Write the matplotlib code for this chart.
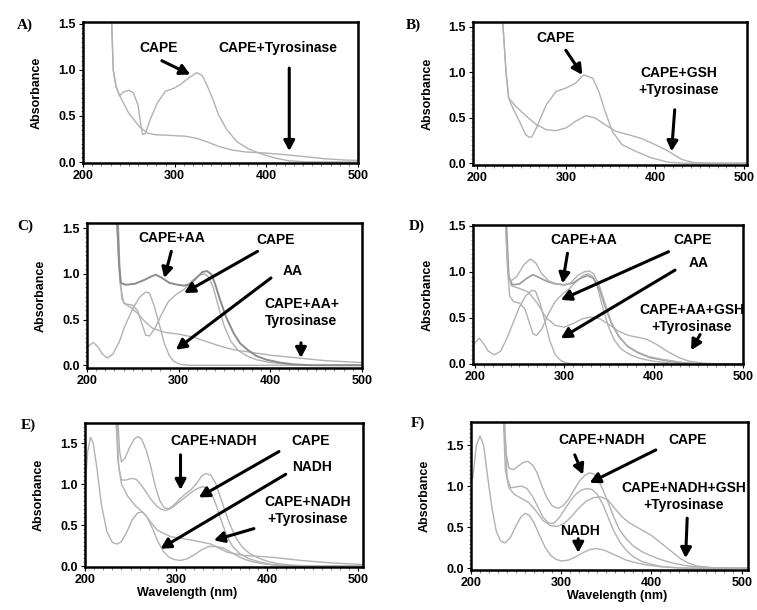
import matplotlib
matplotlib.use('Agg')
import matplotlib.pyplot as plt
from matplotlib.ticker import MultipleLocator, FormatStrFormatter

# ---- panel A ----
wl_a_cape = [231, 233, 236, 240, 244, 250, 255, 260, 263, 265, 268, 274, 281, 290, 299, 306, 315, 324, 330, 335, 341, 348, 357, 368, 381, 395, 410, 424, 442, 500]
ab_a_cape = [1.6, 1.0, 0.82, 0.72, 0.76, 0.78, 0.75, 0.62, 0.41, 0.30, 0.31, 0.48, 0.64, 0.77, 0.80, 0.84, 0.91, 0.97, 0.94, 0.84, 0.70, 0.51, 0.35, 0.22, 0.14, 0.087, 0.043, 0.015, 0.003, 0.0]
wl_a_tyr = [231, 233, 236, 240, 250, 261, 270, 279, 294, 312, 323, 334, 348, 363, 377, 399, 421, 443, 464, 486, 500]
ab_a_tyr = [1.6, 1.0, 0.82, 0.72, 0.53, 0.39, 0.315, 0.297, 0.29, 0.28, 0.26, 0.225, 0.17, 0.13, 0.11, 0.098, 0.08, 0.058, 0.036, 0.022, 0.018]

# ---- panel B ----
wl_b_cape = [229, 233, 236, 239, 248, 255, 259, 262, 267, 278, 289, 300, 311, 320, 330, 337, 344, 352, 363, 378, 396, 415, 433, 503]
ab_b_cape = [1.6, 1.0, 0.715, 0.64, 0.46, 0.313, 0.284, 0.29, 0.386, 0.64, 0.787, 0.824, 0.879, 0.97, 0.934, 0.787, 0.569, 0.35, 0.204, 0.131, 0.058, 0.01, 0.0, 0.0]
wl_b_gsh = [229, 233, 236, 244, 256, 267, 278, 289, 300, 311, 322, 333, 344, 356, 370, 385, 400, 415, 430, 444, 459, 503]
ab_b_gsh = [1.6, 1.0, 0.715, 0.624, 0.514, 0.423, 0.368, 0.357, 0.386, 0.46, 0.521, 0.496, 0.423, 0.35, 0.313, 0.27, 0.204, 0.131, 0.04, 0.005, 0.0, 0.0]

# ---- panel C ----
wl_c_aa = [200, 203, 207, 212, 217, 222, 228, 235, 241, 250, 257, 264, 268, 273, 278, 284, 290, 295, 302, 310, 500]
ab_c_aa = [0.19, 0.22, 0.25, 0.2, 0.12, 0.08, 0.12, 0.25, 0.42, 0.62, 0.74, 0.8, 0.79, 0.66, 0.48, 0.25, 0.1, 0.04, 0.01, 0.0, 0.0]
wl_c_cape = [234, 236, 238, 242, 249, 255, 260, 264, 268, 274, 281, 289, 298, 306, 314, 322, 328, 333, 338, 344, 350, 357, 365, 375, 385, 400, 420, 440, 500]
ab_c_cape = [1.6, 1.0, 0.72, 0.67, 0.66, 0.6, 0.45, 0.33, 0.32, 0.4, 0.55, 0.7, 0.78, 0.83, 0.92, 0.98, 1.0, 0.96, 0.84, 0.62, 0.42, 0.26, 0.16, 0.1, 0.06, 0.03, 0.01, 0.0, 0.0]
wl_c_mix = [233, 235, 237, 242, 252, 262, 270, 275, 281, 290, 299, 306, 313, 320, 326, 331, 336, 340, 345, 352, 360, 367, 375, 385, 396, 410, 425, 445, 500]
ab_c_mix = [1.6, 1.1, 0.9, 0.88, 0.89, 0.93, 0.97, 0.99, 0.96, 0.9, 0.88, 0.87, 0.89, 0.96, 1.02, 1.03, 0.99, 0.88, 0.72, 0.52, 0.35, 0.24, 0.17, 0.1, 0.06, 0.03, 0.01, 0.0, 0.0]
wl_c_tyr = [232, 236, 240, 248, 256, 263, 272, 285, 300, 315, 330, 345, 360, 380, 400, 420, 440, 460, 480, 500]
ab_c_tyr = [1.6, 0.9, 0.68, 0.63, 0.56, 0.48, 0.4, 0.36, 0.34, 0.31, 0.26, 0.21, 0.17, 0.14, 0.11, 0.09, 0.07, 0.05, 0.04, 0.03]

# ---- panel D ----
wl_d_aa = [198, 201, 205, 210, 215, 222, 229, 236, 243, 250, 257, 264, 268, 273, 278, 284, 290, 296, 303, 312, 499]
ab_d_aa = [0.2, 0.24, 0.28, 0.22, 0.14, 0.1, 0.14, 0.28, 0.45, 0.62, 0.74, 0.8, 0.79, 0.66, 0.48, 0.25, 0.1, 0.04, 0.01, 0.0, 0.0]
wl_d_cape = [235, 237, 239, 243, 250, 256, 261, 265, 269, 275, 282, 290, 298, 306, 314, 321, 327, 332, 337, 343, 349, 356, 364, 374, 385, 400, 420, 440, 499]
ab_d_cape = [1.6, 1.0, 0.74, 0.68, 0.66, 0.6, 0.45, 0.33, 0.31, 0.38, 0.54, 0.68, 0.76, 0.82, 0.9, 0.96, 0.98, 0.95, 0.84, 0.62, 0.42, 0.26, 0.16, 0.1, 0.06, 0.03, 0.01, 0.0, 0.0]
wl_d_mix = [234, 237, 240, 247, 255, 262, 268, 275, 283, 292, 300, 307, 315, 322, 328, 333, 339, 345, 352, 360, 370, 382, 395, 410, 430, 450, 499]
ab_d_mix = [1.6, 1.0, 0.9, 0.95, 1.08, 1.14, 1.1, 0.98, 0.9, 0.87, 0.86, 0.88, 0.96, 1.0, 1.01, 0.98, 0.86, 0.68, 0.47, 0.32, 0.2, 0.13, 0.08, 0.05, 0.02, 0.0, 0.0]
wl_d_mix2 = [235, 238, 242, 250, 258, 265, 272, 280, 290, 300, 310, 318, 326, 333, 340, 346, 353, 361, 371, 383, 396, 412, 430, 450, 499]
ab_d_mix2 = [1.6, 0.95, 0.86, 0.87, 0.93, 0.97, 0.94, 0.9, 0.87, 0.86, 0.88, 0.93, 0.96, 0.93, 0.8, 0.62, 0.44, 0.3, 0.19, 0.12, 0.07, 0.04, 0.015, 0.0, 0.0]
wl_d_tyr = [234, 237, 241, 250, 260, 270, 280, 290, 300, 310, 320, 330, 340, 350, 360, 372, 382, 392, 402, 415, 428, 440, 455, 470, 499]
ab_d_tyr = [1.6, 1.0, 0.85, 0.82, 0.78, 0.66, 0.5, 0.42, 0.4, 0.44, 0.49, 0.51, 0.49, 0.43, 0.36, 0.31, 0.29, 0.27, 0.22, 0.14, 0.07, 0.03, 0.01, 0.0, 0.0]

# ---- panel E ----
wl_e_nadh = [200, 203, 206, 209, 213, 218, 224, 230, 235, 240, 246, 252, 258, 263, 268, 274, 280, 286, 292, 298, 305, 312, 320, 328, 336, 344, 352, 360, 368, 376, 385, 395, 410, 430, 505]
ab_e_nadh = [0.95, 1.4, 1.57, 1.5, 1.2, 0.75, 0.42, 0.29, 0.27, 0.3, 0.42, 0.57, 0.65, 0.66, 0.6, 0.46, 0.3, 0.18, 0.11, 0.08, 0.07, 0.09, 0.14, 0.2, 0.24, 0.24, 0.22, 0.17, 0.12, 0.08, 0.05, 0.03, 0.01, 0.0, 0.0]
wl_e_mix = [236, 238, 240, 244, 249, 254, 258, 262, 267, 272, 277, 282, 287, 292, 298, 304, 310, 316, 322, 328, 333, 338, 343, 348, 354, 360, 366, 372, 380, 390, 400, 412, 425, 440, 505]
ab_e_mix = [1.8, 1.4, 1.27, 1.32, 1.45, 1.55, 1.58, 1.55, 1.42, 1.22, 0.98, 0.8, 0.71, 0.7, 0.75, 0.82, 0.88, 0.93, 1.0, 1.1, 1.13, 1.11, 1.02, 0.86, 0.66, 0.48, 0.34, 0.24, 0.16, 0.1, 0.06, 0.03, 0.015, 0.005, 0.0]
wl_e_cape = [235, 237, 240, 245, 251, 256, 261, 266, 272, 278, 284, 289, 295, 302, 310, 318, 324, 329, 334, 339, 344, 350, 356, 362, 370, 380, 392, 405, 420, 440, 505]
ab_e_cape = [1.8, 1.2, 1.05, 1.05, 1.07, 1.06, 1.0, 0.92, 0.82, 0.74, 0.69, 0.68, 0.71, 0.77, 0.84, 0.91, 0.95, 0.97, 0.95, 0.88, 0.74, 0.54, 0.36, 0.24, 0.15, 0.09, 0.05, 0.02, 0.01, 0.0, 0.0]
wl_e_tyr = [234, 236, 240, 247, 255, 265, 279, 294, 316, 338, 356, 375, 404, 437, 470, 505]
ab_e_tyr = [1.8, 1.3, 1.0, 0.85, 0.74, 0.64, 0.44, 0.36, 0.32, 0.27, 0.17, 0.13, 0.11, 0.07, 0.04, 0.02]

# ---- panel F ----
wl_f_nadh = [202, 206, 210, 214, 218, 223, 228, 233, 238, 244, 250, 255, 260, 265, 270, 276, 282, 288, 294, 300, 308, 316, 324, 332, 340, 348, 356, 364, 372, 382, 395, 410, 430, 507]
ab_f_nadh = [1.1, 1.5, 1.61, 1.5, 1.15, 0.75, 0.45, 0.33, 0.31, 0.38, 0.52, 0.62, 0.67, 0.64, 0.55, 0.4, 0.26, 0.16, 0.11, 0.09, 0.1, 0.14, 0.19, 0.23, 0.24, 0.22, 0.18, 0.14, 0.1, 0.07, 0.04, 0.02, 0.005, 0.0]
wl_f_mix = [237, 239, 242, 247, 253, 258, 263, 268, 273, 278, 284, 290, 296, 302, 308, 314, 320, 326, 331, 336, 341, 346, 352, 358, 364, 372, 380, 390, 400, 412, 425, 440, 460, 507]
ab_f_mix = [1.8, 1.4, 1.22, 1.2, 1.25, 1.29, 1.3, 1.26, 1.17, 1.02, 0.86, 0.76, 0.73, 0.76, 0.84, 0.95, 1.06, 1.13, 1.16, 1.15, 1.08, 0.96, 0.8, 0.63, 0.48, 0.36, 0.27, 0.2, 0.15, 0.1, 0.06, 0.03, 0.01, 0.0]
wl_f_cape = [237, 240, 244, 250, 256, 262, 268, 274, 280, 286, 292, 298, 304, 310, 316, 322, 328, 334, 340, 346, 352, 358, 365, 372, 380, 390, 400, 412, 425, 440, 507]
ab_f_cape = [1.8, 1.1, 0.98, 0.99, 1.0, 0.97, 0.88, 0.75, 0.62, 0.55, 0.55, 0.62, 0.72, 0.82, 0.9, 0.95, 0.97, 0.96, 0.9, 0.78, 0.62, 0.46, 0.32, 0.22, 0.14, 0.08, 0.05, 0.02, 0.01, 0.0, 0.0]
wl_f_tyr = [236, 238, 242, 248, 256, 264, 272, 280, 288, 296, 304, 312, 320, 328, 336, 344, 352, 360, 368, 376, 384, 392, 400, 408, 416, 424, 432, 440, 450, 465, 507]
ab_f_tyr = [1.8, 1.2, 0.98, 0.9, 0.85, 0.8, 0.7, 0.58, 0.52, 0.51, 0.55, 0.64, 0.74, 0.82, 0.86, 0.87, 0.83, 0.72, 0.62, 0.55, 0.5, 0.45, 0.4, 0.33, 0.26, 0.19, 0.12, 0.07, 0.03, 0.01, 0.0]

W, H = 757, 610
fig = plt.figure(figsize=(W / 100, H / 100), dpi=100)
plt.rcParams['font.family'] = ['Liberation Sans', 'DejaVu Sans']

GREY = '#b2b2b2'


def make_ax(l, t, r, b, xlim, ylim):
    ax = fig.add_axes([l / W, 1 - b / H, (r - l) / W, (b - t) / H])
    ax.set_xlim(*xlim)
    ax.set_ylim(*ylim)
    for s in ax.spines.values():
        s.set_linewidth(1.8)
    ax.set_xticks([200, 300, 400, 500])
    ax.set_yticks([0.0, 0.5, 1.0, 1.5])
    ax.yaxis.set_major_formatter(FormatStrFormatter('%.1f'))
    ax.xaxis.set_minor_locator(MultipleLocator(10))
    ax.yaxis.set_minor_locator(MultipleLocator(0.05))
    ax.tick_params(which='major', length=3, width=0.8, labelsize=9, pad=2)
    ax.tick_params(which='minor', length=1.8, width=0.5, color='#555555')
    for lab in ax.get_xticklabels() + ax.get_yticklabels():
        lab.set_fontweight('bold')
    ax.set_ylabel('Absorbance', fontsize=9, fontweight='bold')
    ax.yaxis.set_label_coords(-0.145, 0.5)
    return ax


def arrow(ax, tail, head):
    ax.annotate('', xy=head, xytext=tail,
                arrowprops=dict(arrowstyle='-|>,head_length=0.6,head_width=0.32',
                                lw=2.2, color='black', shrinkA=0, shrinkB=0))


def label(ax, x, y, s):
    ax.text(x, y, s, ha='center', va='center', fontsize=10, fontweight='bold',
            linespacing=1.3)


# A
ax = make_ax(83, 22, 358, 163, (200, 500), (-0.01, 1.52))
ax.plot(wl_a_cape, ab_a_cape, color=GREY, lw=1)
ax.plot(wl_a_tyr, ab_a_tyr, color=GREY, lw=1)
label(ax, 282, 1.24, 'CAPE')
arrow(ax, (286, 1.10), (317, 0.95))
label(ax, 413, 1.24, 'CAPE+Tyrosinase')
arrow(ax, (425, 1.02), (425, 0.12))

# B
ax = make_ax(473, 22, 747, 165, (196, 503), (-0.02, 1.55))
ax.plot(wl_b_cape, ab_b_cape, color=GREY, lw=1)
ax.plot(wl_b_gsh, ab_b_gsh, color=GREY, lw=1)
label(ax, 289, 1.37, 'CAPE')
arrow(ax, (300, 1.24), (318.5, 0.97))
label(ax, 426, 0.90, 'CAPE+GSH\n+Tyrosinase')
arrow(ax, (422, 0.586), (418.5, 0.13))

# C
ax = make_ax(87, 223, 362, 368, (200, 500), (-0.03, 1.555))
ax.plot(wl_c_aa, ab_c_aa, color=GREY, lw=1)
ax.plot(wl_c_cape, ab_c_cape, color=GREY, lw=1)
ax.plot(wl_c_tyr, ab_c_tyr, color=GREY, lw=1)
ax.plot(wl_c_mix, ab_c_mix, color='#8c8c8c', lw=1.4)
label(ax, 292, 1.39, 'CAPE+AA')
arrow(ax, (292, 1.245), (284.3, 0.954))
label(ax, 406, 1.37, 'CAPE')
arrow(ax, (386, 1.245), (306, 0.79))
label(ax, 424, 1.03, 'AA')
arrow(ax, (400.7, 0.954), (297, 0.17))
label(ax, 434, 0.58, 'CAPE+AA+\nTyrosinase')
arrow(ax, (433.4, 0.245), (433.4, 0.08))

# D
ax = make_ax(473, 225, 743, 364, (198, 499), (0, 1.51))
ax.plot(wl_d_aa, ab_d_aa, color=GREY, lw=1)
ax.plot(wl_d_cape, ab_d_cape, color=GREY, lw=1)
ax.plot(wl_d_tyr, ab_d_tyr, color=GREY, lw=1)
ax.plot(wl_d_mix2, ab_d_mix2, color='#9a9a9a', lw=1.2)
ax.plot(wl_d_mix, ab_d_mix, color=GREY, lw=1)
label(ax, 322, 1.348, 'CAPE+AA')
arrow(ax, (303.7, 1.203), (298.1, 0.877))
label(ax, 444, 1.348, 'CAPE')
arrow(ax, (416.7, 1.22), (296.3, 0.696))
label(ax, 450, 1.10, 'AA')
arrow(ax, (424, 1.02), (296.3, 0.279))
label(ax, 443, 0.496, 'CAPE+AA+GSH\n+Tyrosinase')
arrow(ax, (452, 0.32), (442, 0.15))

# E
ax = make_ax(85, 423, 363, 567, (200, 505), (-0.01, 1.745))
ax.plot(wl_e_nadh, ab_e_nadh, color=GREY, lw=1)
ax.plot(wl_e_tyr, ab_e_tyr, color=GREY, lw=1)
ax.plot(wl_e_cape, ab_e_cape, color=GREY, lw=1)
ax.plot(wl_e_mix, ab_e_mix, color=GREY, lw=1)
label(ax, 341.4, 1.52, 'CAPE+NADH')
arrow(ax, (304.8, 1.357), (304.8, 0.93))
label(ax, 447.6, 1.52, 'CAPE')
arrow(ax, (412.8, 1.397), (324.9, 0.838))
label(ax, 449.5, 1.214, 'NADH')
arrow(ax, (420.2, 1.12), (282.8, 0.213))
label(ax, 444.3, 0.675, 'CAPE+NADH\n+Tyrosinase')
arrow(ax, (385.3, 0.458), (341.4, 0.315))

# F
ax = make_ax(471, 422, 748, 570, (202, 507), (-0.02, 1.78))
ax.plot(wl_f_nadh, ab_f_nadh, color=GREY, lw=1)
ax.plot(wl_f_tyr, ab_f_tyr, color=GREY, lw=1)
ax.plot(wl_f_cape, ab_f_cape, color=GREY, lw=1)
ax.plot(wl_f_mix, ab_f_mix, color=GREY, lw=1)
label(ax, 344.4, 1.565, 'CAPE+NADH')
arrow(ax, (315, 1.38), (324.2, 1.14))
label(ax, 439.6, 1.565, 'CAPE')
arrow(ax, (404.8, 1.44), (331.5, 1.04))
label(ax, 436, 0.87, 'CAPE+NADH+GSH\n+Tyrosinase')
arrow(ax, (439.6, 0.61), (437.8, 0.125))
label(ax, 320.7, 0.45, 'NADH')
arrow(ax, (318.9, 0.36), (318.9, 0.19))

# panel letters and x labels
for s, x, y in [('A)', 25, 25), ('B)', 413, 25), ('C)', 25, 226),
                ('D)', 417, 226), ('E)', 28, 425), ('F)', 418, 423)]:
    fig.text(x / W, 1 - y / H, s, ha='center', va='center', fontsize=11,
             fontweight='bold', family=['Liberation Serif'])
fig.text(187 / W, 1 - 593 / H, 'Wavelength (nm)', ha='center', va='center',
         fontsize=9, fontweight='bold')
fig.text(617 / W, 1 - 596 / H, 'Wavelength (nm)', ha='center', va='center',
         fontsize=9, fontweight='bold')

fig.savefig('out.png', dpi=100)
